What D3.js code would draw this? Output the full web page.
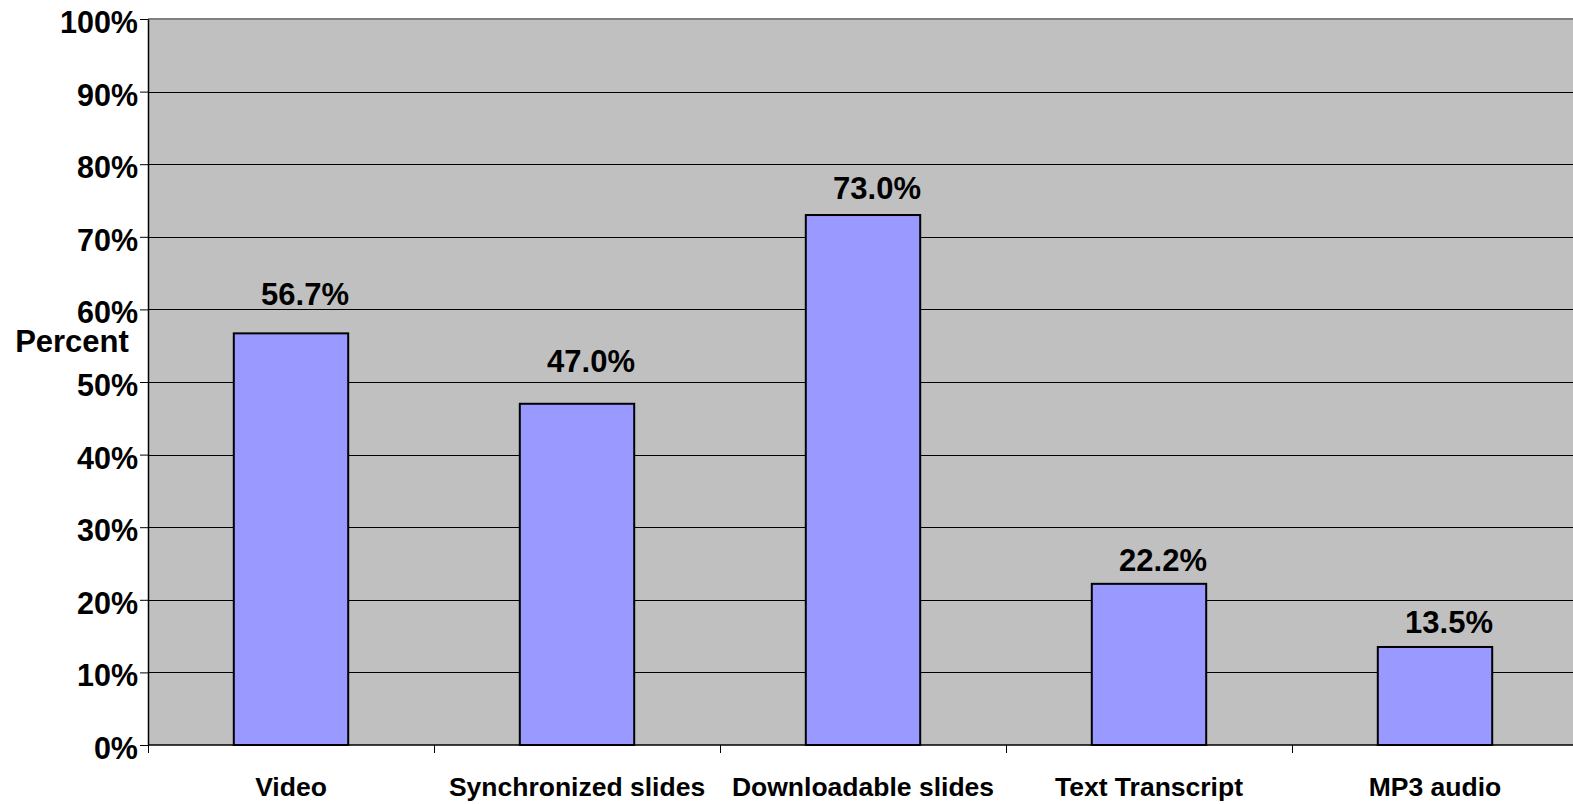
<!DOCTYPE html>
<html>
<head>
<meta charset="utf-8">
<script src="https://cdn.jsdelivr.net/npm/d3@7/dist/d3.min.js"></script>
<style>
  html, body { margin: 0; padding: 0; background: #fff; }
  svg { display: block; }
  text { font-family: "Liberation Sans", Arial, sans-serif; font-weight: bold; fill: #000; }
</style>
</head>
<body>
<svg id="chart" width="1573" height="804"></svg>
<script>
// ---- data ----
const categories = ["Video", "Synchronized slides", "Downloadable slides", "Text Transcript", "MP3 audio"];
const values = [56.7, 47.0, 73.0, 22.2, 13.5];
const valueLabels = ["56.7%", "47.0%", "73.0%", "22.2%", "13.5%"];
const yTicks = [0, 10, 20, 30, 40, 50, 60, 70, 80, 90, 100];
const yTickLabels = ["0%", "10%", "20%", "30%", "40%", "50%", "60%", "70%", "80%", "90%", "100%"];
const yAxisTitle = "Percent";

// ---- layout ----
const W = 1573, H = 804;
const plot = { left: 148, top: 19, right: 1578, bottom: 745 };
const labelLift = [28, 32, 16, 13, 14];

const svg = d3.select("#chart");

const x = d3.scaleBand()
  .domain(categories)
  .range([plot.left, plot.right])
  .paddingInner(0.6)
  .paddingOuter(0.3);

const y = d3.scaleLinear()
  .domain([0, 100])
  .range([plot.bottom, plot.top]);

// plot background
svg.append("rect")
  .attr("x", plot.left).attr("y", plot.top)
  .attr("width", plot.right - plot.left).attr("height", plot.bottom - plot.top)
  .attr("fill", "#C0C0C0");

// gridlines
svg.append("g")
  .selectAll("line")
  .data(yTicks.filter(t => t > 0 && t < 100))
  .join("line")
  .attr("x1", plot.left).attr("x2", plot.right)
  .attr("y1", d => Math.round(y(d)) + 0.5).attr("y2", d => Math.round(y(d)) + 0.5)
  .attr("stroke", "#000").attr("stroke-width", 1);

// top border
svg.append("line")
  .attr("x1", plot.left).attr("x2", plot.right)
  .attr("y1", plot.top).attr("y2", plot.top)
  .attr("stroke", "#808080").attr("stroke-width", 2);

// bars
svg.append("g")
  .selectAll("rect")
  .data(values)
  .join("rect")
  .attr("x", (d, i) => x(categories[i]))
  .attr("y", d => y(d))
  .attr("width", x.bandwidth())
  .attr("height", d => y(0) - y(d))
  .attr("fill", "#9999FF")
  .attr("stroke", "#000")
  .attr("stroke-width", 2);

// value labels
svg.append("g")
  .selectAll("text")
  .data(values)
  .join("text")
  .attr("x", (d, i) => x(categories[i]) + x.bandwidth() / 2 + 14)
  .attr("y", (d, i) => y(d) - labelLift[i])
  .attr("text-anchor", "middle")
  .attr("font-size", 31)
  .text((d, i) => valueLabels[i]);

// y axis
const yAxis = d3.axisLeft(y)
  .tickValues(yTicks)
  .tickFormat((d, i) => yTickLabels[i])
  .tickSizeInner(8)
  .tickSizeOuter(0)
  .tickPadding(2);

const gy = svg.append("g")
  .attr("transform", `translate(${plot.left},0)`)
  .call(yAxis);
gy.select(".domain").attr("stroke", "#000").attr("stroke-width", 1.5);
gy.selectAll(".tick line").attr("stroke", "#000");
gy.selectAll(".tick text")
  .attr("font-size", 30.5)
  .attr("font-family", "Liberation Sans, Arial, sans-serif")
  .attr("font-weight", "bold")
  .attr("dy", "0.44em");

// x axis
const xBoundaries = categories.map(c => x(c) - x.step() * x.paddingOuter());
const gx = svg.append("g");
gx.append("line")
  .attr("x1", plot.left).attr("x2", plot.right)
  .attr("y1", plot.bottom).attr("y2", plot.bottom)
  .attr("stroke", "#000").attr("stroke-width", 1.5);
gx.selectAll("line.tk")
  .data(xBoundaries)
  .join("line")
  .attr("class", "tk")
  .attr("x1", d => Math.round(d) + 0.5).attr("x2", d => Math.round(d) + 0.5)
  .attr("y1", plot.bottom).attr("y2", plot.bottom + 8)
  .attr("stroke", "#000");
gx.selectAll("text")
  .data(categories)
  .join("text")
  .attr("x", d => x(d) + x.bandwidth() / 2)
  .attr("y", 796)
  .attr("text-anchor", "middle")
  .attr("font-size", 26.5)
  .text(d => d);

// y axis title
svg.append("text")
  .attr("x", 72)
  .attr("y", 352)
  .attr("text-anchor", "middle")
  .attr("font-size", 31)
  .text(yAxisTitle);
</script>
</body>
</html>
